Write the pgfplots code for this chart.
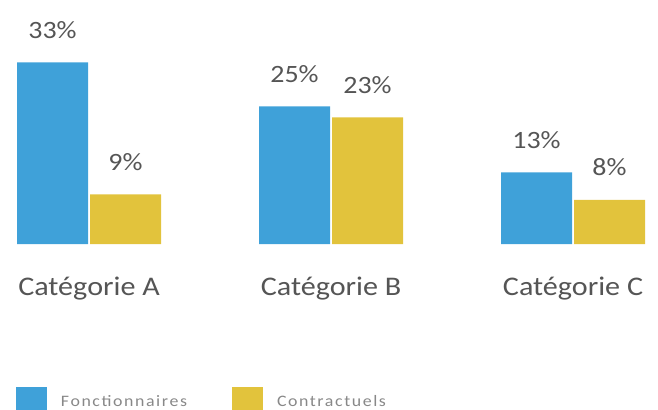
\documentclass[border=0pt]{standalone}
\usepackage{fontspec}
\setmainfont{Carlito}[FakeStretch=1.12]
\usepackage{pgfplots}
\pgfplotsset{compat=1.18}
\definecolor{cblue}{HTML}{3FA1D9}
\definecolor{cyel}{HTML}{E2C33C}
\definecolor{tgray}{HTML}{555555}
\definecolor{lgray}{HTML}{888888}
\begin{document}
\begin{tikzpicture}
\path[use as bounding box] (0,0) rectangle (658bp,410bp);
\begin{axis}[
  at={(0bp,166bp)}, anchor=south west,
  scale only axis, width=658bp, height=200bp,
  xmin=-0.3678, xmax=2.3512, ymin=0, ymax=36.36,
  axis lines=none, clip=false,
  ybar=2bp, bar width=71bp,
  xtick=\empty, ytick=\empty,
  /pgf/number format/assume math mode=true,
  nodes near coords={\pgfmathprintnumber{\pgfplotspointmeta}\%},
  every node near coord/.append style={anchor=base, yshift=24bp, font=\fontsize{25}{29}\selectfont, text=tgray},
  legend style={draw=none, fill=none, at={(axis description cs:0.024,-0.715)}, anchor=north west,
    font=\fontsize{16}{19}\selectfont\addfontfeatures{LetterSpace=10}, text=lgray,
    legend columns=2, /tikz/every even column/.append style={column sep=43bp},
    inner sep=0pt, cells={anchor=west}},
  legend image code/.code={\fill[#1] (0bp,-16bp) rectangle (31bp,15bp); \path (43bp,0bp);},
]
\addplot[fill=cblue, draw=none] coordinates {(0,33) (1,25) (2,13)};
\addplot[fill=cyel, draw=none] coordinates {(0,9) (1,23) (2,8)};
\legend{Fonctionnaires, Contractuels}
\node[text=tgray, anchor=base, yshift=-51bp, font=\fontsize{27}{32}\selectfont] at (axis cs:0,0) {Catégorie A};
\node[text=tgray, anchor=base, yshift=-51bp, font=\fontsize{27}{32}\selectfont] at (axis cs:1,0) {Catégorie B};
\node[text=tgray, anchor=base, yshift=-51bp, font=\fontsize{27}{32}\selectfont] at (axis cs:2,0) {Catégorie C};
\end{axis}
\end{tikzpicture}
\end{document}
